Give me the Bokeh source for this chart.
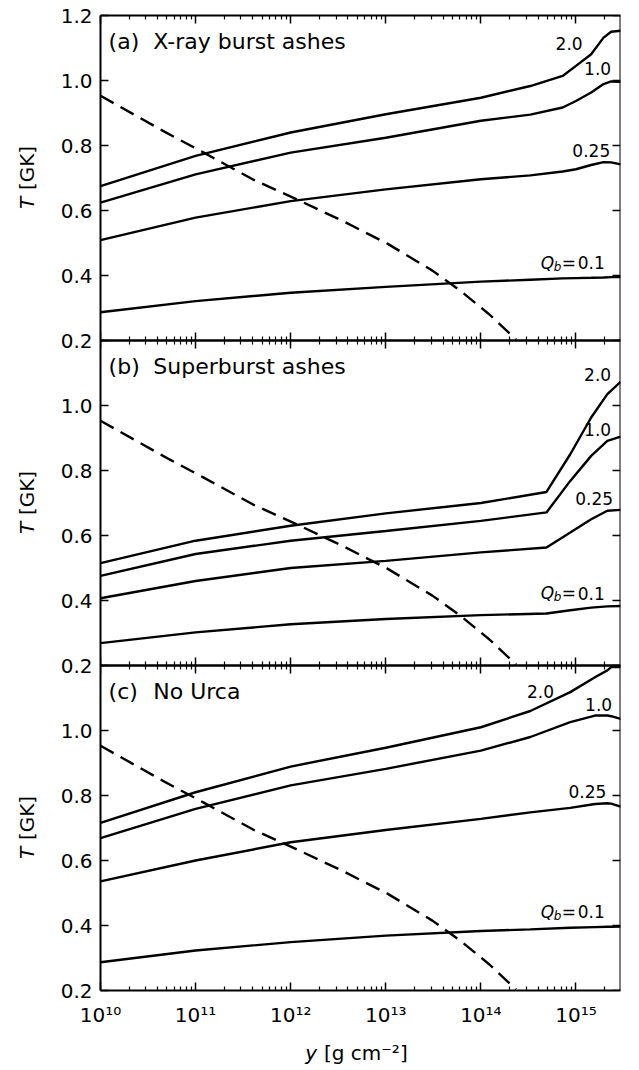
import math
from bokeh.plotting import figure
from bokeh.layouts import column, row
from bokeh.models import (Range1d, LogAxis, LinearAxis, FixedTicker,
                          CustomJSTickFormatter, Label)
from bokeh.embed import file_html
from bokeh.resources import INLINE

FONT = "DejaVu Sans"

# ---------------- data (log10 of column depth y, temperature T in GK) -------------
# panel (a) X-ray burst ashes
a_logy = [10.0, 11.0, 12.0, 13.0, 14.0, 14.52, 14.86, 15.0, 15.16, 15.29, 15.37, 15.47]
a_q2 = [0.675, 0.768, 0.840, 0.896, 0.947, 0.983, 1.014, 1.045, 1.081, 1.132, 1.150, 1.153]
a_q1 = [0.624, 0.711, 0.778, 0.824, 0.876, 0.895, 0.917, 0.937, 0.963, 0.989, 0.997, 0.996]
a_q025 = [0.509, 0.578, 0.629, 0.665, 0.696, 0.708, 0.720, 0.727, 0.740, 0.749, 0.748, 0.742]
a_q01 = [0.287, 0.321, 0.347, 0.365, 0.381, 0.387, 0.391, 0.392, 0.393, 0.394, 0.395, 0.395]

# panel (b) Superburst ashes
b_logy = [10.0, 11.0, 12.0, 13.0, 14.0, 14.69, 14.94, 15.16, 15.33, 15.47]
b_q2 = [0.515, 0.584, 0.630, 0.668, 0.700, 0.734, 0.850, 0.963, 1.035, 1.073]
b_q1 = [0.476, 0.543, 0.584, 0.614, 0.645, 0.671, 0.768, 0.845, 0.891, 0.904]
b_q025 = [0.407, 0.460, 0.500, 0.522, 0.548, 0.563, 0.609, 0.650, 0.676, 0.679]
b_q01 = [0.269, 0.302, 0.327, 0.343, 0.355, 0.360, 0.370, 0.378, 0.382, 0.383]

# panel (c) No Urca
c_logy = [10.0, 11.0, 12.0, 13.0, 14.0, 14.52, 14.94, 15.20, 15.33, 15.37, 15.47]
c_q2 = [0.716, 0.810, 0.889, 0.947, 1.010, 1.060, 1.118, 1.164, 1.185, 1.195, 1.195]
c_q1 = [0.669, 0.759, 0.831, 0.882, 0.938, 0.980, 1.026, 1.046, 1.046, 1.044, 1.036]
c_q025 = [0.536, 0.600, 0.656, 0.694, 0.728, 0.748, 0.762, 0.774, 0.776, 0.775, 0.766]
c_q01 = [0.287, 0.323, 0.349, 0.369, 0.383, 0.388, 0.393, 0.395, 0.396, 0.396, 0.397]

# dashed curve (same in every panel)
d_logy = [10.0, 10.657, 11.086, 11.60, 12.03, 12.545, 13.017, 13.49, 13.79, 14.09, 14.37]
d_t = [0.953, 0.845, 0.778, 0.696, 0.639, 0.568, 0.498, 0.415, 0.352, 0.280, 0.203]

panel_names = ["a", "b", "c"]
panel_tags = ["(a)", "(b)", "(c)"]
panel_titles = ["X-ray burst ashes", "Superburst ashes", "No Urca"]
curve_labels = ["2.0", "1.0", "0.25"]
qb_parts = ["Q", "b", "=", "0.1"]
x_decades = [10, 11, 12, 13, 14, 15]
y_label_parts = ["T", "[GK]"]
x_label_parts = ["y", "[g cm\u207b\u00b2]"]

panels = {
    "a": (a_logy, [a_q2, a_q1, a_q025, a_q01]),
    "b": (b_logy, [b_q2, b_q1, b_q025, b_q01]),
    "c": (c_logy, [c_q2, c_q1, c_q025, c_q01]),
}

# label placements (log10 y of anchor, T)
label_pos = {
    "a": [(15.07, 1.114), (15.37, 1.037), (15.36, 0.785), (14.63, 0.440)],
    "b": [(15.37, 1.095), (15.37, 0.926), (15.39, 0.714), (14.63, 0.422)],
    "c": [(14.77, 1.120), (15.38, 1.080), (15.32, 0.812), (14.63, 0.443)],
}

XMAX = 2.94e15
x_range = Range1d(1e10, XMAX)

# ---------------- main plot: three stacked panels in one frame ----------------
p = figure(width=583, height=1032, x_axis_type="log",
           x_range=x_range, y_range=Range1d(0, 3),
           output_backend="svg", toolbar_location=None,
           min_border_left=60, min_border_right=3, min_border_top=15,
           min_border_bottom=42)
p.extra_y_ranges = {"a": Range1d(-1.8, 1.2), "b": Range1d(-0.8, 2.2),
                    "c": Range1d(0.2, 3.2)}
p.grid.visible = False
p.outline_line_color = None
p.background_fill_color = "white"
p.border_fill_color = "white"

minor = [m * 10.0 ** e for e in x_decades for m in range(2, 10) if m * 10.0 ** e <= XMAX]
x_ticker = FixedTicker(ticks=[10.0 ** e for e in x_decades], minor_ticks=minor)
u_ticks = [round(0.2 * k, 1) for k in range(16)]
y_ticker = FixedTicker(ticks=u_ticks, minor_ticks=[])

x_fmt = CustomJSTickFormatter(code="""
const sup = {"0":"\u2070","1":"\u00b9","2":"\u00b2","3":"\u00b3","4":"\u2074",
             "5":"\u2075","6":"\u2076","7":"\u2077","8":"\u2078","9":"\u2079","-":"\u207b"};
const e = Math.round(Math.log10(tick));
return "10" + String(e).split("").map(c => sup[c]).join("");
""")
y_fmt = CustomJSTickFormatter(code="""
if (Math.abs(tick - 3) < 1e-6) return "1.2";
const f = tick - Math.floor(tick + 1e-6);
return (0.2 + f).toFixed(1);
""")
blank = CustomJSTickFormatter(code="return '';")


def style(ax, labels=True, outward=False):
    ax.axis_line_width = 2
    ax.axis_line_color = "black"
    ax.major_tick_in = 0 if outward else 8
    ax.major_tick_out = 8 if outward else 0
    ax.minor_tick_in = 0 if outward else 4
    ax.minor_tick_out = 4 if outward else 0
    ax.major_tick_line_width = 1.5
    ax.minor_tick_line_width = 1.2
    ax.major_tick_line_color = "black"
    ax.minor_tick_line_color = "black"
    if labels:
        ax.major_label_text_font = FONT
        ax.major_label_text_font_size = "20px"
        ax.major_label_text_color = "black"
    else:
        ax.formatter = blank
        ax.major_label_text_font_size = "0px"
        ax.major_label_standoff = 0
        ax.axis_label_standoff = 0


bx = p.xaxis[0]
bx.ticker = x_ticker
bx.formatter = x_fmt
style(bx)
bx.major_label_standoff = 12
ly = p.yaxis[0]
ly.ticker = y_ticker
ly.formatter = y_fmt
style(ly)
ly.major_label_standoff = 8

top = LogAxis(ticker=x_ticker)
style(top, labels=False)
p.add_layout(top, "above")
# right frame edge: left-side axis drawn at the right end, ticks pointing inward
right = LinearAxis(ticker=y_ticker, fixed_location=XMAX)
style(right, labels=False, outward=True)
p.add_layout(right, "left")
for loc in (1, 2):
    for side in ("below", "above"):
        ax = LogAxis(ticker=x_ticker, fixed_location=loc)
        style(ax, labels=False)
        p.add_layout(ax, side)

# curves
for name in panel_names:
    logy, series = panels[name]
    xs = [10.0 ** v for v in logy]
    for s in series:
        p.line(xs, s, y_range_name=name, line_color="black", line_width=2.4)
    p.line([10.0 ** v for v in d_logy], d_t, y_range_name=name,
           line_color="black", line_width=2.4, line_dash="15 8")


def lab(fig, **kw):
    kw.setdefault("text_font", FONT)
    kw.setdefault("text_color", "black")
    kw.setdefault("text_baseline", "middle")
    fig.add_layout(Label(**kw))


for i, name in enumerate(panel_names):
    lab(p, x=10 ** 10.085, y=1.12, y_range_name=name, text=panel_tags[i],
        text_font_size="22px", text_align="left")
    lab(p, x=10 ** 10.555, y=1.12, y_range_name=name, text=panel_titles[i],
        text_font_size="22px", text_align="left")
    pos = label_pos[name]
    for j, t in enumerate(curve_labels):
        lx, ly_ = pos[j]
        lab(p, x=10 ** lx, y=ly_, y_range_name=name, text=t,
            text_font_size="17px", text_align="right")
    qx, qy = pos[3]
    lab(p, x=10 ** qx, y=qy, y_range_name=name, text=qb_parts[0],
        text_font_size="17px", text_font_style="italic", text_align="left")
    lab(p, x=10 ** qx, y=qy, y_range_name=name, text=qb_parts[1], x_offset=13, y_offset=-4,
        text_font_size="12px", text_font_style="italic", text_align="left")
    lab(p, x=10 ** qx, y=qy, y_range_name=name, text=qb_parts[2], x_offset=21,
        text_font_size="17px", text_align="left")
    lab(p, x=10 ** qx, y=qy, y_range_name=name, text=qb_parts[3], x_offset=37,
        text_font_size="17px", text_align="left")

# ---------------- strip with the y axis titles ----------------
ylab = figure(width=40, height=1032, x_range=Range1d(0, 40), y_range=Range1d(0, 3),
              x_axis_location=None, y_axis_location=None,
              output_backend="svg", toolbar_location=None,
              min_border_left=0, min_border_right=0, min_border_top=15,
              min_border_bottom=42)
ylab.outline_line_color = None
ylab.grid.visible = False
for i in range(3):
    uc = 2.5 - i
    lab(ylab, x=26.5, y=uc, text=y_label_parts[0], angle=math.pi / 2, y_offset=-25,
        text_font_size="20px", text_font_style="italic", text_align="center")
    lab(ylab, x=26.5, y=uc, text=y_label_parts[1], angle=math.pi / 2, y_offset=10,
        text_font_size="20px", text_align="center")

# ---------------- strip with the x axis title ----------------
xlab = figure(width=623, height=34, x_axis_type="log", x_range=x_range,
              y_range=Range1d(0, 1), x_axis_location=None, y_axis_location=None,
              output_backend="svg", toolbar_location=None,
              min_border_left=100, min_border_right=3, min_border_top=0,
              min_border_bottom=0)
xlab.outline_line_color = None
xlab.grid.visible = False
lab(xlab, x=10 ** 12.154, y=0.40, text=x_label_parts[0], text_font_size="20px",
    text_font_style="italic", text_align="left")
lab(xlab, x=10 ** 12.350, y=0.40, text=x_label_parts[1], text_font_size="20px",
    text_align="left")

layout = column(row(ylab, p), xlab)
open("out.html", "w").write(file_html(layout, INLINE))
